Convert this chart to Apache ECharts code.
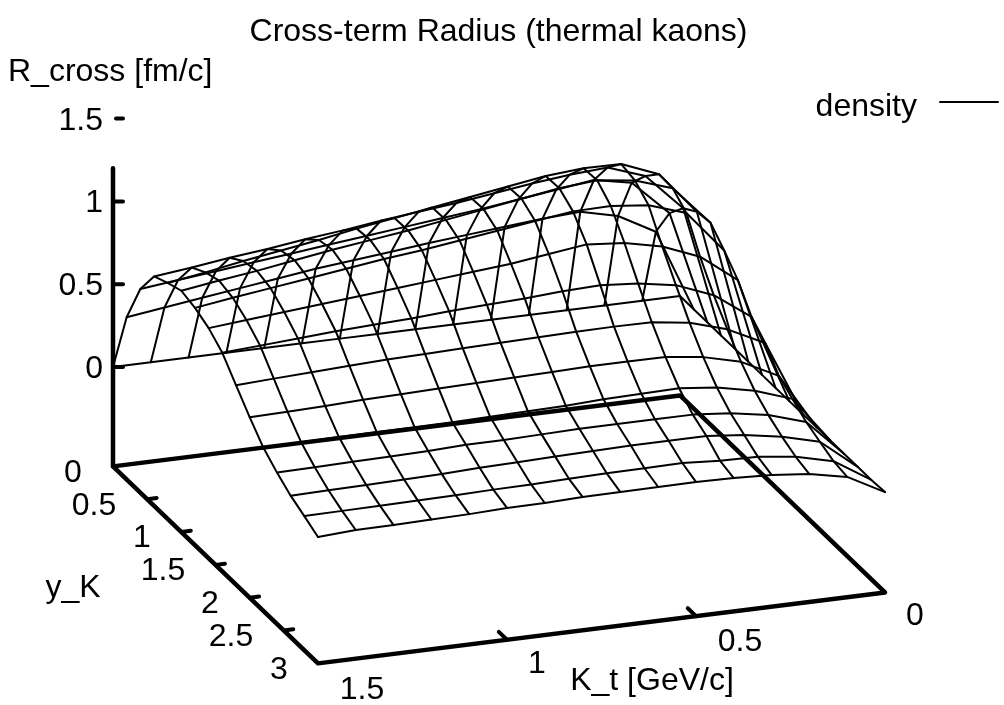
<!DOCTYPE html>
<html><head><meta charset="utf-8">
<style>html,body{margin:0;padding:0;background:#fff}#c{width:1004px;height:705px}</style>
<script src="https://cdn.jsdelivr.net/npm/echarts@6/dist/echarts.min.js"></script>
</head><body><div id="c"></div>
<script>
// K_t [GeV/c] grid (columns of the tables below)
const kt = [1.5,1.4,1.3,1.2,1.1,1.0,0.9,0.8,0.7,0.6,0.5,0.4,0.3,0.2,0.1,0.0];
// y_K grid
const yk = [0,0.2,0.4,0.6,0.8,1.0,1.2,1.4,1.6,1.8,2.0,2.2,2.4,2.6,2.8,3.0];
// R_cross, one row per y_K value
const r00=[0,0,0,0,0,0,0,0,0,0,0,0,0,0,0,0];
const r02=[.38,.41,.44,.47,.50,.53,.553,.575,.60,.62,.64,.66,.674,.62,.496,0];
const r04=[.63,.655,.68,.705,.73,.755,.78,.805,.83,.855,.885,.915,.945,.90,.688,0];
const r06=[.785,.81,.84,.865,.895,.92,.95,.975,1.0,1.03,1.06,1.085,1.10,1.02,.797,0];
const r08=[.825,.86,.90,.935,.97,1.01,1.045,1.08,1.115,1.15,1.185,1.203,1.2,1.11,.855,0];
const r10=[.857,.89,.92,.955,.99,1.02,1.05,1.085,1.12,1.155,1.19,1.21,1.18,1.105,.868,0];
const r12=[.833,.865,.895,.925,.955,.985,1.01,1.04,1.07,1.10,1.13,1.134,1.11,1.035,.78,0];
const r14=[.79,.81,.83,.85,.87,.89,.91,.93,.95,.98,1.01,.99,.94,.85,.68,0];
const r16=[.72,.735,.75,.765,.775,.785,.80,.81,.82,.835,.843,.825,.786,.697,.538,0];
const r18=[.604,.615,.625,.635,.645,.65,.655,.66,.665,.67,.672,.67,.638,.57,.459,0];
const r20=[.49,.495,.50,.51,.515,.521,.525,.53,.535,.54,.54,.54,.51,.453,.34,0];
const r22=[.386,.39,.392,.394,.395,.396,.40,.405,.41,.42,.425,.43,.406,.358,.28,0];
const r24=[.314,.318,.322,.326,.33,.34,.34,.345,.35,.35,.35,.35,.33,.29,.22,0];
const r26=[.254,.258,.262,.266,.27,.28,.285,.29,.295,.30,.30,.30,.278,.238,.18,0];
const r28=[.21,.213,.216,.219,.222,.227,.23,.235,.24,.242,.245,.23,.225,.197,.142,0];
const r30=[.163,.177,.178,.183,.187,.196,.197,.205,.206,.208,.21,.205,.195,.172,.126,.006];
const rows=[r00,r02,r04,r06,r08,r10,r12,r14,r16,r18,r20,r22,r24,r26,r28,r30];
// axis ticks
const zTicks=[0,0.5,1,1.5];
const yTicks=[0,0.5,1,1.5,2,2.5,3];
const kTicks=[1.5,1,0.5,0];

// orthographic view of the gnuplot plot
const zFloor=-0.6, zTop=1.2;
function P(k,y,z){
  const u=1.5-k;
  return [113+378*u+68.33*y, 367-47.3*u+65.67*y-165.6*z];
}
const W=2;
const series=[];
function line(pts,w){series.push({type:'line',data:pts,symbol:'none',silent:true,animation:false,
  lineStyle:{color:'#000',width:w,cap:'round',join:'round'},z:w>2?3:2});}
rows.forEach((r,j)=>line(r.map((z,i)=>P(kt[i],yk[j],z)),W));
kt.forEach((k,i)=>line(rows.map((r,j)=>P(k,yk[j],r[i])),W));
// frame
line([P(1.5,0,zFloor),P(0,0,zFloor),P(0,3,zFloor),P(1.5,3,zFloor),P(1.5,0,zFloor)],4.5);
line([P(1.5,0,zFloor),P(1.5,0,zTop)],4.5);
zTicks.forEach(z=>{const a=P(1.5,0,z);line([[a[0]+(z===1.5?3:0),a[1]],[a[0]+10,a[1]]],4);});
yTicks.slice(1,-1).forEach(y=>line([P(1.5,y,zFloor),P(1.475,y,zFloor)],4));
kTicks.slice(1,-1).forEach(k=>line([P(k,3,zFloor),P(k,2.88,zFloor)],4));
line([[940,102],[998,102]],2);

const FONT='"Liberation Sans",Arial,sans-serif';
function T(text,x,y,align){return {type:'text',x:x,y:y+2,silent:true,style:{text:text,x:0,y:0,align:align||'center',verticalAlign:'middle',font:'32px '+FONT,fill:'#000'}};}
const texts=[
 T('R_cross [fm/c]',8,70,'left'),
 T('density',917,105,'right'),
 T('y_K',73,586),T('K_t [GeV/c]',652,679),
 T('0',103,367,'right'),T('0.5',103,284,'right'),T('1',103,201,'right'),T('1.5',103,119,'right'),
 T('0',73,471),T('0.5',94,504),T('1',142,536),T('1.5',163,569),T('2',210,602),T('2.5',231,635),T('3',279,668),
 T('1.5',362,688),T('1',537,662),T('0.5',740,640),T('0',915,614)
];
const chart=echarts.init(document.getElementById('c'),null,{renderer:'canvas'});
chart.setOption({
 animation:false,backgroundColor:'#fff',
 title:{text:'Cross-term Radius (thermal kaons)',left:493.5,top:11,textAlign:'center',textStyle:{fontFamily:FONT,fontSize:32,fontWeight:'normal',color:'#000'}},
 grid:{left:0,right:0,top:0,bottom:0},
 xAxis:{type:'value',min:0,max:1004,show:false},
 yAxis:{type:'value',min:0,max:705,inverse:true,show:false},
 graphic:texts,
 series:series
});
</script></body></html>
